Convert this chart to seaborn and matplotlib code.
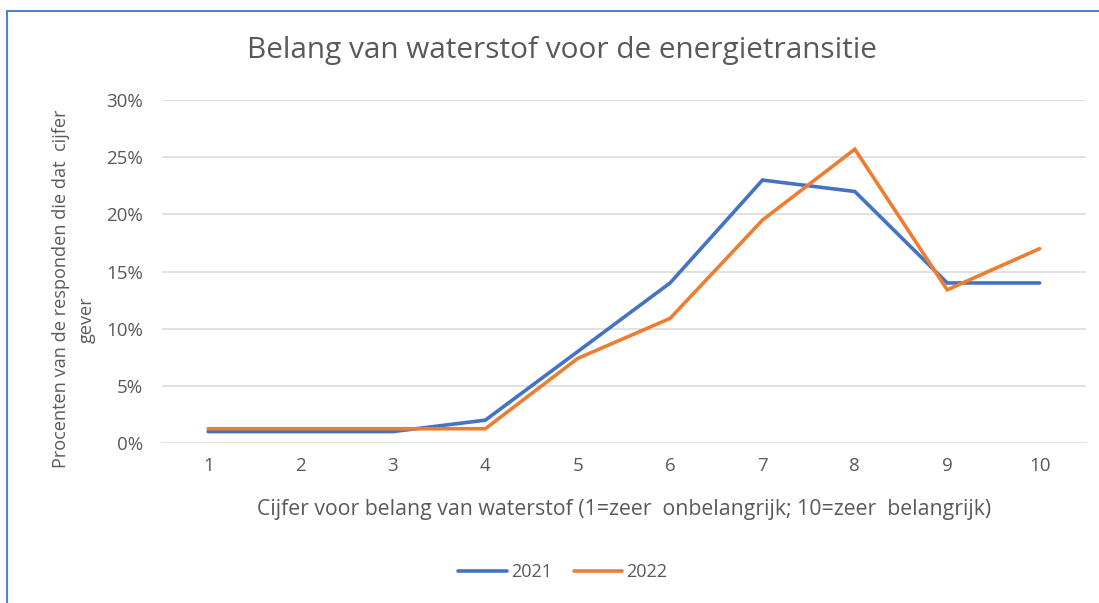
import pandas as pd
import matplotlib.pyplot as plt
import seaborn as sns
from matplotlib.lines import Line2D
from matplotlib.ticker import FuncFormatter

# Data (procenten)
cijfers = [1, 2, 3, 4, 5, 6, 7, 8, 9, 10]
pct_2021 = [1.0, 1.0, 1.0, 2.0, 8.0, 14.0, 23.0, 22.0, 14.0, 14.0]
pct_2022 = [1.25, 1.25, 1.25, 1.25, 7.4, 10.9, 19.5, 25.7, 13.4, 17.0]
jaren = ['2021', '2022']
kleuren = ['#4472C4', '#ED7D31']

df = pd.DataFrame({
    'Cijfer': cijfers * 2,
    'Procent': pct_2021 + pct_2022,
    'Jaar': [jaren[0]] * len(cijfers) + [jaren[1]] * len(cijfers),
})

sns.set_style('white')
plt.rcParams['font.family'] = ['Open Sans', 'DejaVu Sans']
grijs = '#595959'

fig = plt.figure(figsize=(10.99, 6.03), dpi=100)
ax = fig.add_axes([0.1474, 0.2653, 0.8406, 0.5688])

sns.lineplot(data=df, x='Cijfer', y='Procent', hue='Jaar', palette=kleuren,
             linewidth=2.6, ax=ax, legend=False, solid_capstyle='round',
             solid_joinstyle='miter')

ax.set_xlim(0.5, 10.5)
ax.set_ylim(0, 30)
ax.set_xticks(cijfers)
ax.set_yticks(range(0, 31, 5))
ax.yaxis.set_major_formatter(FuncFormatter(lambda v, p: f'{v:.0f}%'))
ax.tick_params(axis='both', length=0, labelsize=13.5, colors=grijs)
ax.tick_params(axis='y', pad=13.5)
ax.tick_params(axis='x', pad=10)
ax.grid(axis='y', color='#D9D9D9', linewidth=1.1)
ax.set_axisbelow(True)
for s in ax.spines.values():
    s.set_visible(False)

ax.set_xlabel('Cijfer voor belang van waterstof (1=zeer  onbelangrijk; 10=zeer  belangrijk)',
              fontsize=15.3, color=grijs, labelpad=17)
ax.set_ylabel('')

# Titel en y-as label
fig.text(0.511, 0.917, 'Belang van waterstof voor de energietransitie',
         ha='center', va='center', fontsize=21.4, color=grijs)
fig.text(0.0555, 1 - 289 / 603, 'Procenten van de responden die dat  cijfer',
         rotation=90, ha='center', va='center', fontsize=13.1, color=grijs)
fig.text(0.0785, 1 - 320 / 603, 'gever',
         rotation=90, ha='center', va='center', fontsize=13.1, color=grijs)

# Legenda onderaan
handles = [Line2D([], [], color=k, linewidth=2.6, solid_capstyle='round') for k in kleuren]
fig.legend(handles, jaren, loc='center', bbox_to_anchor=(0.512, 1 - 572 / 603),
           ncol=2, frameon=False, fontsize=13, handlelength=2.7, handletextpad=0.2,
           columnspacing=1.2, labelcolor=grijs)

# Blauwe rand van de screenshot
fig.add_artist(Line2D([7 / 1099, 1], [1 - 11 / 603, 1 - 11 / 603], color='#4A7FD6',
                      linewidth=1.4, transform=fig.transFigure))
fig.add_artist(Line2D([7 / 1099, 7 / 1099], [0, 1 - 11 / 603], color='#4A7FD6',
                      linewidth=1.4, transform=fig.transFigure))

fig.savefig('out.png', dpi=100)
